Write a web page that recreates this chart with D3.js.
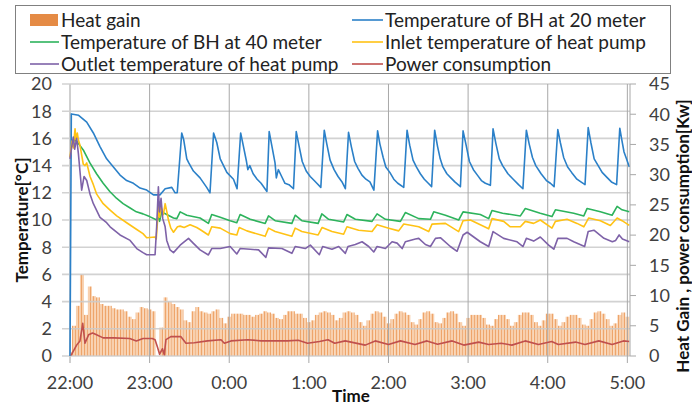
<!DOCTYPE html>
<html>
<head>
<meta charset="utf-8">
<script src="https://cdn.jsdelivr.net/npm/d3@7"></script>
<style>
  html, body { margin: 0; padding: 0; background: #fff; }
  svg { display: block; font-family: Lato, "Open Sans", sans-serif; }
</style>
</head>
<body>
<svg id="chart" width="692" height="406"></svg>
<script>
// ── Borehole / heat pump night run, 22:00 → 5:00 ──
// Time is kept as minutes after 22:00. Temperatures in °C (left axis),
// heat gain and power in kW (right axis).

const hourTicks  = [0, 60, 120, 180, 240, 300, 360, 420];
const hourLabels = ['22:00', '23:00', '0:00', '1:00', '2:00', '3:00', '4:00', '5:00'];
const tempTicks  = [0, 2, 4, 6, 8, 10, 12, 14, 16, 18, 20];
const kwTicks    = [0, 5, 10, 15, 20, 25, 30, 35, 40, 45];

// heat gain [kW], one column every 3 minutes from 22:00
const heatGainStep = 3;
const heatGain = [
  0.7, 5.0, 8.3, 13.5, 6.8, 11.5, 9.9, 9.7, 8.6, 8.3,
  8.3, 7.9, 7.7, 7.7, 7.4, 6.5, 6.1, 7.2, 8.1, 7.9,
  7.7, 7.4, 0, 4.7, 9.7, 9.0, 8.6, 8.1, 7.7, 5.9,
  5.6, 7.4, 8.1, 7.4, 7.2, 7.0, 7.4, 7.7, 6.3, 5.4,
  6.5, 7.0, 7.0, 7.0, 6.8, 6.8, 6.5, 6.8, 7.0, 7.4,
  7.2, 7.0, 6.3, 6.1, 6.8, 7.4, 7.4, 7.0, 7.0, 6.3,
  5.6, 5.9, 6.8, 7.2, 7.4, 7.2, 6.8, 5.9, 6.3, 7.2,
  7.4, 7.2, 6.8, 5.6, 5.0, 5.9, 7.0, 7.4, 7.2, 6.5,
  5.4, 6.1, 7.0, 7.4, 7.2, 6.8, 5.6, 5.2, 6.1, 7.2,
  7.4, 7.0, 5.6, 5.4, 6.3, 7.2, 7.4, 7.0, 5.6, 5.0,
  6.3, 6.8, 6.8, 6.8, 6.3, 5.2, 5.0, 6.1, 6.8, 6.8,
  6.1, 5.0, 5.6, 6.8, 7.2, 7.2, 6.8, 5.6, 5.0, 5.9,
  7.0, 7.0, 6.1, 5.0, 5.6, 6.5, 6.8, 6.8, 6.3, 5.2,
  5.0, 6.1, 7.2, 7.4, 7.0, 6.1, 5.0, 5.4, 6.8, 7.2,
  6.5,
];

// [minute, °C]
const bh20 = [
  [0, 0], [1, 17.8], [6.5, 17.7], [12.6, 17.2], [17.6, 16.4], [22.6, 15.4], [27.6, 14.5],
  [32.7, 13.9], [37.7, 13.3], [42.7, 12.9], [47.8, 12.7], [52.8, 12.35], [57.8, 12.2],
  [62.9, 11.85], [67.9, 11.85], [71.7, 12.3], [76.7, 12.4], [79.2, 12.0], [80.8, 12.0],
  [84.2, 16.4], [85.7, 15.9], [88, 14.5], [89.5, 14.2], [93, 13.6], [98, 13.1], [103, 12.4], [105.5, 12.0],
  [108.2, 16.4], [110.6, 15.7], [113.2, 14.5], [118.2, 13.5], [123.2, 13.0], [125.9, 12.3],
  [128.6, 16.4], [130.5, 15.5], [133, 14.3], [134, 13.7], [135.5, 14.0], [138, 13.4], [141, 13.0], [144, 12.7], [148.4, 12.1],
  [150.1, 16.5], [152, 15.5], [154.5, 14.2], [155.5, 13.1], [157, 13.7], [159.5, 13.2], [162, 12.7], [165, 12.6], [168.4, 12.3],
  [170.5, 16.5], [172.5, 15.5], [175, 14.3], [178, 13.6], [181, 13.2], [184, 12.9], [186, 12.7], [189, 12.4],
  [191.6, 16.6], [193.5, 15.6], [196, 14.4], [199, 13.7], [202, 13.2], [205, 12.8], [207.5, 12.3],
  [209.9, 16.45], [212, 15.4], [214.5, 14.3], [217, 13.8], [220, 13.3], [223, 13.0], [226, 12.8], [229, 12.2],
  [231.8, 16.55], [233.5, 15.6], [236, 14.6], [238, 13.9], [241, 13.5], [244, 13.0], [247, 12.7], [251.5, 12.4],
  [254, 16.6], [256, 15.5], [258.5, 14.4], [261, 13.9], [264, 13.4], [267, 13.0], [270, 12.7], [272.5, 12.45],
  [274.8, 16.6], [277, 15.4], [279, 14.5], [281, 13.9], [284, 13.4], [287, 13.1], [290, 12.8], [294.2, 12.45],
  [296.2, 16.55], [298.5, 15.5], [301, 14.3], [304, 13.7], [307, 13.3], [310, 12.9], [313, 12.7], [316.8, 12.55],
  [318.8, 16.7], [321, 15.6], [323.5, 14.5], [326, 14.0], [330, 13.4], [334, 13.0], [338, 12.6], [341.3, 12.3],
  [343.9, 16.6], [346, 15.6], [348.5, 14.6], [351, 14.0], [355, 13.4], [359, 12.9], [362, 12.7], [364.8, 12.45],
  [367.6, 16.65], [369.5, 15.7], [372, 14.6], [375, 13.9], [378, 13.5], [382, 13.0], [385, 12.8], [388.1, 12.6],
  [390.5, 16.8], [392.5, 15.7], [395, 14.5], [398, 14.0], [401, 13.5], [405, 13.1], [408, 12.8], [411.9, 12.6],
  [414.3, 16.75], [416, 15.8], [417.5, 15.0], [419, 14.6], [421.5, 13.9],
];

const bh40 = [
  [2, 15.9], [5, 15.8], [10, 15.15], [15, 14.2], [20, 13.4], [25, 12.7], [30, 12.1], [35, 11.6],
  [40, 11.2], [45, 10.9], [50, 10.6], [55, 10.45], [60, 10.25], [65.4, 10.0], [66.5, 10.2], [67.5, 9.9],
  [69.1, 10.6], [72.9, 10.4], [78, 10.15], [80.5, 10.1], [83, 10.6], [88, 10.35], [98, 10.15],
  [104.3, 9.75], [106.8, 10.4], [113.2, 10.2], [120.7, 9.95], [125.7, 9.8], [128.2, 10.4], [135.8, 10.05],
  [147.1, 9.75], [149.6, 10.3], [154.6, 9.95], [167.2, 9.75], [169.7, 10.35], [174.7, 9.95],
  [187, 9.75], [189.8, 10.45], [194.9, 10.05], [206.2, 9.85], [208.7, 10.4], [215, 10.05],
  [227.6, 9.9], [231.4, 10.45], [237.7, 10.05], [249, 9.9], [252.7, 10.55], [262.8, 10.1],
  [271.6, 10.05], [274.1, 10.6], [282.9, 10.35], [292.9, 10.0], [296.2, 10.6], [309.2, 10.4],
  [315.5, 10.1], [318, 10.7], [326, 10.5], [339.4, 10.3], [343.1, 10.85], [354.4, 10.5],
  [363.2, 10.25], [365.8, 10.75], [379.6, 10.5], [387.2, 10.3], [389.7, 10.85], [399.7, 10.6],
  [408.5, 10.35], [412.3, 11.0], [416, 10.75], [421.5, 10.6],
];

const inlet = [
  [0, 14.6], [1.5, 15.8], [2.5, 15.3], [3.8, 16.7], [4.5, 15.9], [5.5, 16.4], [6.3, 15.9], [7.5, 15.5],
  [10, 14.1], [11.3, 14.0], [12.6, 14.2], [15.1, 13.2], [17.6, 12.6], [20.1, 11.9], [25, 11.2],
  [30, 10.75], [35.2, 10.3], [42.7, 9.8], [50.3, 9.3], [55, 9.0], [57.8, 8.7], [64.1, 8.75],
  [65, 8.6], [66, 10.0], [66.8, 11.3], [67.5, 10.2], [68.5, 11.0], [70.4, 10.4], [71.7, 11.2],
  [73, 10.6], [74.2, 10.0], [76, 9.4], [78, 9.1], [81, 9.5], [83, 9.55], [86, 9.45], [90.5, 9.65],
  [95.5, 9.45], [98, 9.3], [104.3, 8.9], [106.8, 9.5], [113.2, 9.4], [120.7, 9.0], [125.7, 8.9],
  [127.5, 9.45], [133.3, 9.2], [147.1, 8.8], [149.6, 9.4], [154.6, 9.15], [167.2, 8.8], [169.7, 9.4],
  [174.7, 9.15], [187, 8.9], [190, 9.45], [197.4, 9.15], [206.2, 8.95], [208.7, 9.5], [217.5, 9.25],
  [227.6, 9.15], [231.4, 9.65], [240.2, 9.4], [247.7, 9.2], [251.5, 9.7], [262.8, 9.5], [270.3, 9.15],
  [272.8, 9.7], [282.9, 9.75], [292.9, 9.15], [296.2, 9.95], [301.7, 10.0], [309.2, 9.65], [315.5, 9.35],
  [318, 10.1], [326.8, 9.9], [331.8, 9.5], [339.4, 9.5], [343.1, 9.9], [349.4, 9.75], [354.4, 10.0],
  [363.2, 9.4], [365.8, 9.9], [374.6, 10.05], [382.1, 9.75], [387.2, 9.5], [390.9, 10.15],
  [399.7, 9.95], [407.2, 9.6], [412.3, 10.15], [416, 9.95], [421.5, 9.6],
];

const outlet = [
  [0, 14.5], [1.5, 15.5], [2.5, 16.1], [3.5, 15.2], [5, 16.0], [6.3, 14.9], [7.5, 13.6], [8.8, 12.2],
  [10.6, 13.2], [12.6, 12.9], [15.1, 11.9], [17.6, 11.2], [22.6, 10.2], [27.6, 9.8], [30.2, 9.5],
  [37.7, 8.9], [45.3, 8.5], [50.3, 7.9], [55, 7.6], [57.8, 7.45], [64.1, 7.45], [65.3, 9.5],
  [66.6, 12.45], [67.4, 10.6], [68.6, 11.6], [69.9, 10.1], [71.7, 9.5], [72.9, 8.5], [75.4, 7.8],
  [78, 7.6], [83, 8.15], [89.3, 8.65], [93, 8.28], [98, 7.8], [104.3, 7.43], [106.8, 7.9],
  [113.2, 7.9], [120.7, 8.05], [125.7, 7.5], [128.2, 7.9], [135.8, 7.85], [142.1, 7.8],
  [147.6, 7.25], [149.6, 7.95], [159.7, 7.9], [167.2, 7.55], [169.7, 8.05], [177.3, 7.9],
  [181.1, 8.15], [187.9, 7.45], [190.4, 8.05], [197.4, 7.85], [202.5, 8.05], [207.5, 7.55],
  [209.5, 8.05], [215, 8.2], [220.1, 8.4], [225.1, 8.05], [228.9, 7.65], [231.4, 8.05],
  [237.7, 7.9], [242.7, 8.4], [246.5, 8.3], [250.3, 7.9], [252.7, 8.4], [260.3, 8.6], [262.8, 8.65],
  [267.8, 8.2], [271.6, 8.05], [275.4, 8.65], [279.1, 8.7], [286.6, 8.05], [291.7, 7.7],
  [296.2, 8.9], [299.3, 9.1], [309.2, 8.4], [315.5, 8.05], [318.8, 9.15], [326.8, 8.65],
  [336.9, 8.4], [341.4, 8.05], [343.9, 8.65], [349.4, 8.45], [354.4, 8.75], [360.7, 8.15],
  [364.6, 7.85], [367.6, 8.65], [374.6, 8.65], [379.6, 8.4], [387.8, 8.05], [390.5, 9.15],
  [394.8, 9.25], [402.4, 8.65], [408.7, 8.4], [411.2, 8.5], [413.8, 8.9], [416.3, 8.6], [421.5, 8.4],
];

// [minute, kW]
const power = [
  [0.75, 0.1], [5, 1.8], [7.5, 2.5], [9.6, 5.4], [11.3, 2.1], [14, 3.5], [17, 3.8], [20, 3.5],
  [25, 3.0], [33, 3.0], [45, 2.9], [50, 2.5], [55, 2.9], [62, 2.9], [64.1, 2.7], [65.9, 1.5],
  [67.5, 0.3], [69.7, 1.2], [71, 0.2], [72.3, 2.7], [76, 3.2], [83.6, 3.2], [87.4, 2.1],
  [93.7, 2.2], [103.7, 2.5], [113.8, 2.7], [116.3, 2.1], [121.3, 2.5], [134, 2.7], [144, 2.5],
  [164, 2.5], [172, 2.6], [179, 2.1], [188, 2.4], [194.4, 2.7], [199.5, 2.1], [207.4, 2.5],
  [222.5, 1.8], [230, 2.5], [240, 1.9], [249, 2.5], [260, 1.9], [269, 2.5], [277, 1.95],
  [288, 2.5], [296.7, 1.8], [308, 2.3], [315.5, 1.9], [325, 2.1], [333, 1.8], [343, 2.5],
  [353, 1.9], [363, 2.4], [368, 1.9], [381, 2.3], [388, 1.9], [398.5, 2.5], [408.5, 1.9],
  [417, 2.5], [421.5, 2.4],
];

const seriesNames = [
  'Heat gain', 'Temperature of BH at 20 meter',
  'Temperature of BH at 40 meter', 'Inlet temperature of heat pump',
  'Outlet temperature of heat pump', 'Power consumption',
];

// ── layout ──
const COLORS = {
  heat: '#e58b45',
  bh20: '#2b80c8', bh40: '#2db35c', inlet: '#ffc215', outlet: '#7e62a8', power: '#c0504d',
};
const plot = { left: 70, right: 630, top: 84, bottom: 356 };

const svg = d3.select('#chart');

// striped fill for the dense heat-gain columns
const pat = svg.append('defs').append('pattern')
  .attr('id', 'heatStripes')
  .attr('patternUnits', 'userSpaceOnUse')
  .attr('width', 3).attr('height', 8);
pat.append('rect').attr('width', 3).attr('height', 8).attr('fill', '#f8d0ae');
pat.append('rect').attr('x', 0).attr('width', 1).attr('height', 8).attr('fill', '#eea56b');

const x  = d3.scaleLinear().domain([0, 422]).range([plot.left, plot.right]);
const yT = d3.scaleLinear().domain([0, 20]).range([plot.bottom, plot.top]);
const yK = d3.scaleLinear().domain([0, 45]).range([plot.bottom, plot.top]);

// ── grid ──
const grid = svg.append('g');
grid.selectAll('line.h')
  .data(tempTicks)
  .join('line')
  .attr('x1', plot.left - 8).attr('x2', plot.right)
  .attr('y1', d => yT(d)).attr('y2', d => yT(d))
  .attr('stroke', '#cbcbcb').attr('stroke-width', 1.6);

// ── heat gain columns (right axis) ──
const barW = x(heatGainStep) - x(0);
svg.append('g')
  .selectAll('rect')
  .data(heatGain)
  .join('rect')
  .attr('x', (d, i) => Math.max(plot.left, x(i * heatGainStep) - barW / 2))
  .attr('width', (d, i) => Math.min(x(i * heatGainStep) + barW / 2, plot.right) - Math.max(plot.left, x(i * heatGainStep) - barW / 2))
  .attr('y', d => yK(d))
  .attr('height', d => yK(0) - yK(d))
  .attr('fill', 'url(#heatStripes)');

// gridlines show through the columns in the source
grid.raise().attr('opacity', 0.85);
svg.append('g')
  .selectAll('line')
  .data(hourTicks)
  .join('line')
  .attr('x1', d => x(d)).attr('x2', d => x(d))
  .attr('y1', plot.top).attr('y2', plot.bottom + 7)
  .attr('stroke', d => d === 0 ? '#cfcfcf' : '#a8a8a8')
  .attr('stroke-width', d => d === 0 ? 2 : 1);

// ── lines ──
const lineT = d3.line().x(d => x(d[0])).y(d => yT(d[1]));
const lineK = d3.line().x(d => x(d[0])).y(d => yK(d[1]));

const lines = [
  { data: bh20,   gen: lineT, color: COLORS.bh20 },
  { data: bh40,   gen: lineT, color: COLORS.bh40 },
  { data: inlet,  gen: lineT, color: COLORS.inlet },
  { data: outlet, gen: lineT, color: COLORS.outlet },
  { data: power,  gen: lineK, color: COLORS.power },
];
lines.forEach(s => {
  svg.append('path')
    .attr('d', s.gen(s.data))
    .attr('fill', 'none')
    .attr('stroke', s.color)
    .attr('stroke-width', 1.6)
    .attr('stroke-linejoin', 'round');
});

// ── axes ──
const tickFont = 18;

svg.append('g')
  .selectAll('text')
  .data(tempTicks)
  .join('text')
  .attr('x', 52).attr('y', d => yT(d))
  .attr('dy', '0.35em')
  .attr('text-anchor', 'end')
  .attr('font-size', tickFont).attr('fill', '#404040')
  .text(d => d);

// right axis line + ticks
svg.append('line')
  .attr('x1', plot.right).attr('x2', plot.right)
  .attr('y1', plot.top).attr('y2', plot.bottom)
  .attr('stroke', '#a8a8a8').attr('stroke-width', 1);
svg.append('g')
  .selectAll('line')
  .data(kwTicks)
  .join('line')
  .attr('x1', plot.right).attr('x2', plot.right + 6)
  .attr('y1', d => yK(d)).attr('y2', d => yK(d))
  .attr('stroke', '#a8a8a8');
svg.append('g')
  .selectAll('text')
  .data(kwTicks)
  .join('text')
  .attr('x', 649).attr('y', d => yK(d))
  .attr('dy', '0.35em')
  .attr('font-size', tickFont).attr('fill', '#404040')
  .text(d => d);

svg.append('g')
  .selectAll('text')
  .data(hourTicks)
  .join('text')
  .attr('x', d => x(d)).attr('y', 389)
  .attr('text-anchor', 'middle')
  .attr('font-size', tickFont).attr('fill', '#404040')
  .text((d, i) => hourLabels[i]);

// axis titles
svg.append('text')
  .attr('transform', 'translate(28,220) rotate(-90)')
  .attr('text-anchor', 'middle')
  .attr('font-size', 17).attr('font-weight', 'bold').attr('fill', '#111')
  .text('Temperature[°C]');

svg.append('text')
  .attr('transform', 'translate(689,236) rotate(-90)')
  .attr('text-anchor', 'middle')
  .attr('font-size', 17).attr('font-weight', 'bold').attr('fill', '#111')
  .text('Heat Gain , power consumption[Kw]');

svg.append('text')
  .attr('x', 351).attr('y', 402)
  .attr('text-anchor', 'middle')
  .attr('font-size', 17).attr('font-weight', 'bold').attr('fill', '#111')
  .text('Time');

// ── legend ──
const legend = svg.append('g');
legend.append('rect')
  .attr('x', 15.5).attr('y', 5.5).attr('width', 655).attr('height', 68)
  .attr('fill', '#fff').attr('stroke', '#808080');

const legendCols = [{ mark: 30, text: 61 }, { mark: 352, text: 385 }];
const legendRows = [20, 42, 64];
const legendColors = [COLORS.heat, COLORS.bh20, COLORS.bh40, COLORS.inlet, COLORS.outlet, COLORS.power];

seriesNames.forEach((name, i) => {
  const col = legendCols[i % 2];
  const cy = legendRows[Math.floor(i / 2)];
  if (i === 0) {
    legend.append('rect')
      .attr('x', col.mark).attr('y', cy - 6).attr('width', 28).attr('height', 12)
      .attr('fill', legendColors[i]);
  } else {
    legend.append('line')
      .attr('x1', col.mark).attr('x2', col.text - 2)
      .attr('y1', cy).attr('y2', cy)
      .attr('stroke', legendColors[i]).attr('stroke-width', 1.6);
  }
  legend.append('text')
    .attr('x', col.text).attr('y', cy)
    .attr('dy', '0.35em')
    .attr('font-size', 19).attr('fill', '#222')
    .text(name);
});
</script>
</body>
</html>
